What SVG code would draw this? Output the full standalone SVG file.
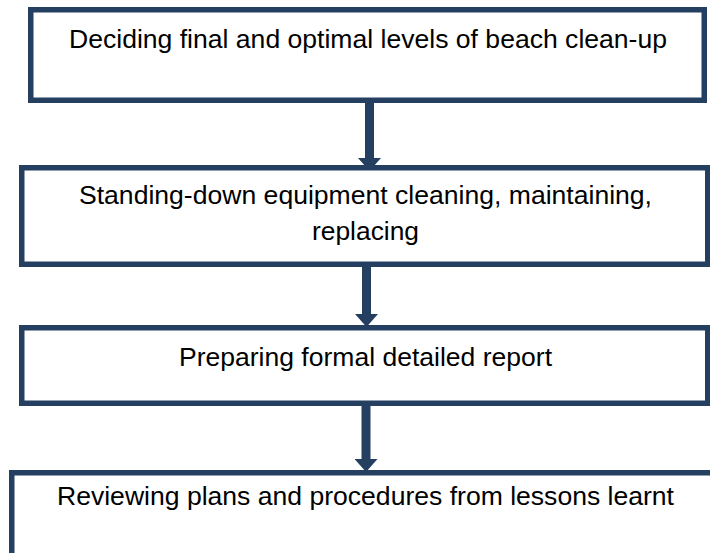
<svg xmlns="http://www.w3.org/2000/svg" width="710" height="553" viewBox="0 0 710 553">
<style>
.box{fill:#ffffff;stroke:#253F60;stroke-width:5.5}
.lbl{font-family:"Liberation Sans",Arial,sans-serif;font-size:25px;fill:#000000;text-anchor:middle}
.conn{stroke:#253F60;stroke-width:9;fill:none}
</style>
<defs>
<marker id="ah" markerUnits="userSpaceOnUse" markerWidth="13" markerHeight="23" refX="0" refY="11.5" orient="auto" viewBox="0 0 13 23">
<path d="M0,0 L13,11.5 L0,23 Z" fill="#253F60"/>
</marker>
</defs>
<rect width="710" height="553" fill="#ffffff"/>
<g id="connectors">
<line class="conn" x1="369.5" y1="103" x2="369.5" y2="158" marker-end="url(#ah)"/>
<line class="conn" x1="366.5" y1="267" x2="366.5" y2="314" marker-end="url(#ah)"/>
<line class="conn" x1="366" y1="406" x2="366" y2="459" marker-end="url(#ah)"/>
</g>
<g id="node1">
<rect class="box" x="30.75" y="9.75" width="673.5" height="90.5"/>
<text class="lbl" x="368" y="48" textLength="598" lengthAdjust="spacingAndGlyphs">Deciding final and optimal levels of beach clean-up</text>
</g>
<g id="node2">
<rect class="box" x="21.75" y="167.75" width="686" height="96.5"/>
<text class="lbl" x="365.5" y="204" textLength="573" lengthAdjust="spacingAndGlyphs">Standing-down equipment cleaning, maintaining,</text>
<text class="lbl" x="365.5" y="240" textLength="107" lengthAdjust="spacingAndGlyphs">replacing</text>
</g>
<g id="node3">
<rect class="box" x="21.75" y="327.75" width="686" height="75.5"/>
<text class="lbl" x="365.5" y="366" textLength="373" lengthAdjust="spacingAndGlyphs">Preparing formal detailed report</text>
</g>
<g id="node4">
<rect class="box" x="11.75" y="472.75" width="710" height="100"/>
<text class="lbl" x="365.5" y="505" textLength="617" lengthAdjust="spacingAndGlyphs">Reviewing plans and procedures from lessons learnt</text>
</g>
</svg>
